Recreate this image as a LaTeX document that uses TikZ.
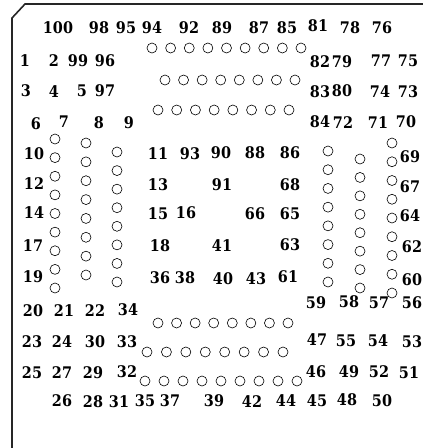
\documentclass[tikz,border=0pt]{standalone}
\usepackage{fontspec}
\setmainfont{DejaVu Serif Condensed}
\begin{document}
\begin{tikzpicture}[x=1pt,y=-1pt,
  lbl/.style={inner sep=0pt,font=\fontsize{16}{18}\selectfont\bfseries},
  pin/.style={circle,draw,line width=0.6pt,minimum size=10pt,inner sep=0pt},
  frame/.style={draw=black!85,line width=1.6pt}]
\useasboundingbox (0,0) rectangle (423,448);
\draw[frame] (423,4) -- (25,4) -- (12,18) -- (12,448);
% pins (circles): name/count-1/start/end
\foreach \n/\k/\xa/\ya/\xb/\yb in {
  ta/8/152/48/301/48, tb/7/165/80/295/80, tc/7/158/110/289/110,
  la/8/55/139/55/288, lb/7/86/143/86/275, lc/7/117/152/117/282,
  ra/7/328/151/328/282, rb/7/360/159/360/288, rc/8/392/143/392/293,
  ba/7/158/323/288/323, bb/7/147/352/283/352, bc/8/145/381/297/381}{
  \foreach \i in {0,...,\k}
    \node[pin] (\n-\i) at ({\xa+(\xb-\xa)*\i/\k},{\ya+(\yb-\ya)*\i/\k}) {};
}
% labels
\foreach \t/\x/\y in {
 100/58/28, 98/99/28, 95/126/28, 94/152/28, 92/189/28, 89/222/28, 87/259/28, 85/287/28, 81/318/26, 78/350/28, 76/382/28,
 1/25/61, 2/54/61, 99/78/61, 96/105/61, 82/320/62, 79/342/62, 77/381/61, 75/408/61,
 3/26/91, 4/54/92, 5/82/91, 97/105/91, 83/320/92, 80/342/91, 74/380/92, 73/408/92,
 6/36/124, 7/64/122, 8/99/123, 9/129/123, 84/320/122, 72/343/123, 71/378/123, 70/406/122,
 10/34/154, 11/158/154, 93/190/154, 90/221/153, 88/255/153, 86/290/153, 69/410/157,
 12/34/184, 13/158/185, 91/222/185, 68/290/185, 67/410/187,
 14/34/213, 15/158/214, 16/186/213, 66/255/214, 65/290/214, 64/410/216,
 17/33/246, 18/160/246, 41/222/246, 63/290/245, 62/412/247,
 19/33/277, 36/160/278, 38/185/278, 40/223/279, 43/256/279, 61/288/277, 60/412/280,
 20/33/311, 21/64/311, 22/95/311, 34/128/310, 59/316/303, 58/349/302, 57/379/303, 56/412/303,
 23/32/342, 24/62/342, 30/95/342, 33/127/342, 47/317/340, 55/346/341, 54/378/341, 53/412/342,
 25/32/373, 27/62/373, 29/93/373, 32/127/372, 46/316/372, 49/349/372, 52/379/372, 51/409/373,
 26/62/401, 28/93/402, 31/119/402, 35/145/401, 37/170/401, 39/214/401, 42/252/402, 44/286/401, 45/317/401, 48/347/400, 50/382/401}{
  \node[lbl] (p\t) at (\x,\y) {\t};
}
\end{tikzpicture}
\end{document}
